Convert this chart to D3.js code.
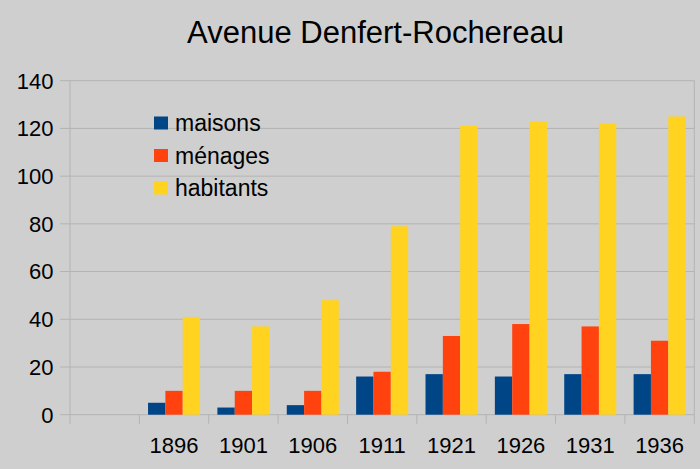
<!DOCTYPE html>
<html>
<head>
<meta charset="utf-8">
<script src="https://cdn.jsdelivr.net/npm/d3@7"></script>
<style>
  body { margin: 0; background: #cfcfcf; }
  svg { display: block; font-family: "Liberation Sans", Arial, sans-serif; }
</style>
</head>
<body>
<div id="chart-container"></div>
<script>
// first category is empty in the original chart
const years = ["", "1896", "1901", "1906", "1911", "1921", "1926", "1931", "1936"];
const seriesNames = ["maisons", "ménages", "habitants"];
const maisons = [null, 5, 3, 4, 16, 17, 16, 17, 17];
const menages = [null, 10, 10, 10, 18, 33, 38, 37, 31];
const habitants = [null, 41, 37, 48, 79, 121, 123, 122, 125];
const yTicks = [0, 20, 40, 60, 80, 100, 120, 140];
const colors = ["#004586", "#ff420e", "#ffd320"];

const W = 700, H = 469;
const margin = { top: 80.7, right: 5.7, bottom: 54.3, left: 70 };
const width = W - margin.left - margin.right,
  height = H - margin.top - margin.bottom;

const series = [maisons, menages, habitants];
const data = years.map((yr, i) => ({ year: yr, values: series.map(s => s[i]) }));

const x = d3.scaleBand().domain(d3.range(years.length)).range([0, width]);
const x1 = d3.scaleBand().domain(d3.range(3)).range([0, x.bandwidth()]).paddingOuter(0.5).paddingInner(0);
const y = d3.scaleLinear().domain([0, 140]).range([height, 0]);

const svg = d3.select("#chart-container").append("svg")
  .attr("width", W)
  .attr("height", H);

svg.append("rect").attr("width", W).attr("height", H).attr("fill", "#cfcfcf");

svg.append("text")
  .attr("x", 375.5)
  .attr("y", 43.3)
  .attr("text-anchor", "middle")
  .attr("font-size", 31)
  .attr("fill", "#000")
  .text("Avenue Denfert-Rochereau");

const g = svg.append("g")
  .attr("transform", "translate(" + margin.left + "," + margin.top + ")");

// gridlines
g.selectAll(".grid")
  .data(yTicks)
  .enter().append("line")
  .attr("class", "grid")
  .attr("x1", -10)
  .attr("x2", width)
  .attr("y1", d => y(d))
  .attr("y2", d => y(d))
  .attr("stroke", "#b3b3b3")
  .attr("stroke-width", 1);

// left and right axis lines
g.append("line")
  .attr("x1", 0).attr("x2", 0)
  .attr("y1", 0).attr("y2", height + 9)
  .attr("stroke", "#b3b3b3");
g.append("line")
  .attr("x1", width).attr("x2", width)
  .attr("y1", 0).attr("y2", height + 9)
  .attr("stroke", "#b3b3b3");

// x tick marks at category boundaries
g.selectAll(".xtick")
  .data(d3.range(1, years.length))
  .enter().append("line")
  .attr("class", "xtick")
  .attr("x1", d => x(d))
  .attr("x2", d => x(d))
  .attr("y1", height)
  .attr("y2", height + 9)
  .attr("stroke", "#b3b3b3");

// y labels
g.selectAll(".ylabel")
  .data(yTicks)
  .enter().append("text")
  .attr("class", "ylabel")
  .attr("x", -16.5)
  .attr("y", d => y(d))
  .attr("dy", "0.36em")
  .attr("text-anchor", "end")
  .attr("font-size", 22)
  .attr("fill", "#000")
  .text(d => d);

// x labels
g.selectAll(".xlabel")
  .data(data)
  .enter().append("text")
  .attr("class", "xlabel")
  .attr("x", (d, i) => x(i) + x.bandwidth() / 2)
  .attr("y", height + 38)
  .attr("text-anchor", "middle")
  .attr("font-size", 22)
  .attr("fill", "#000")
  .text(d => d.year);

// bars
const groups = g.selectAll(".group")
  .data(data)
  .enter().append("g")
  .attr("class", "group")
  .attr("transform", (d, i) => "translate(" + x(i) + ",0)");

groups.selectAll("rect")
  .data(d => d.values.map((v, k) => ({ v, k })).filter(e => e.v != null))
  .enter().append("rect")
  .attr("x", d => x1(d.k))
  .attr("width", x1.bandwidth())
  .attr("y", d => y(d.v))
  .attr("height", d => y(0) - y(d.v))
  .attr("fill", d => colors[d.k]);

// legend
const legend = svg.append("g").attr("transform", "translate(154,123)");
const items = legend.selectAll(".item")
  .data(seriesNames)
  .enter().append("g")
  .attr("class", "item")
  .attr("transform", (d, i) => "translate(0," + i * 32.5 + ")");
items.append("rect")
  .attr("x", 0).attr("y", -6.5)
  .attr("width", 14).attr("height", 13)
  .attr("fill", (d, i) => colors[i]);
items.append("text")
  .attr("x", 21)
  .attr("y", 0)
  .attr("dy", "0.36em")
  .attr("font-size", 23)
  .attr("fill", "#000")
  .text(d => d);
</script>
</body>
</html>
